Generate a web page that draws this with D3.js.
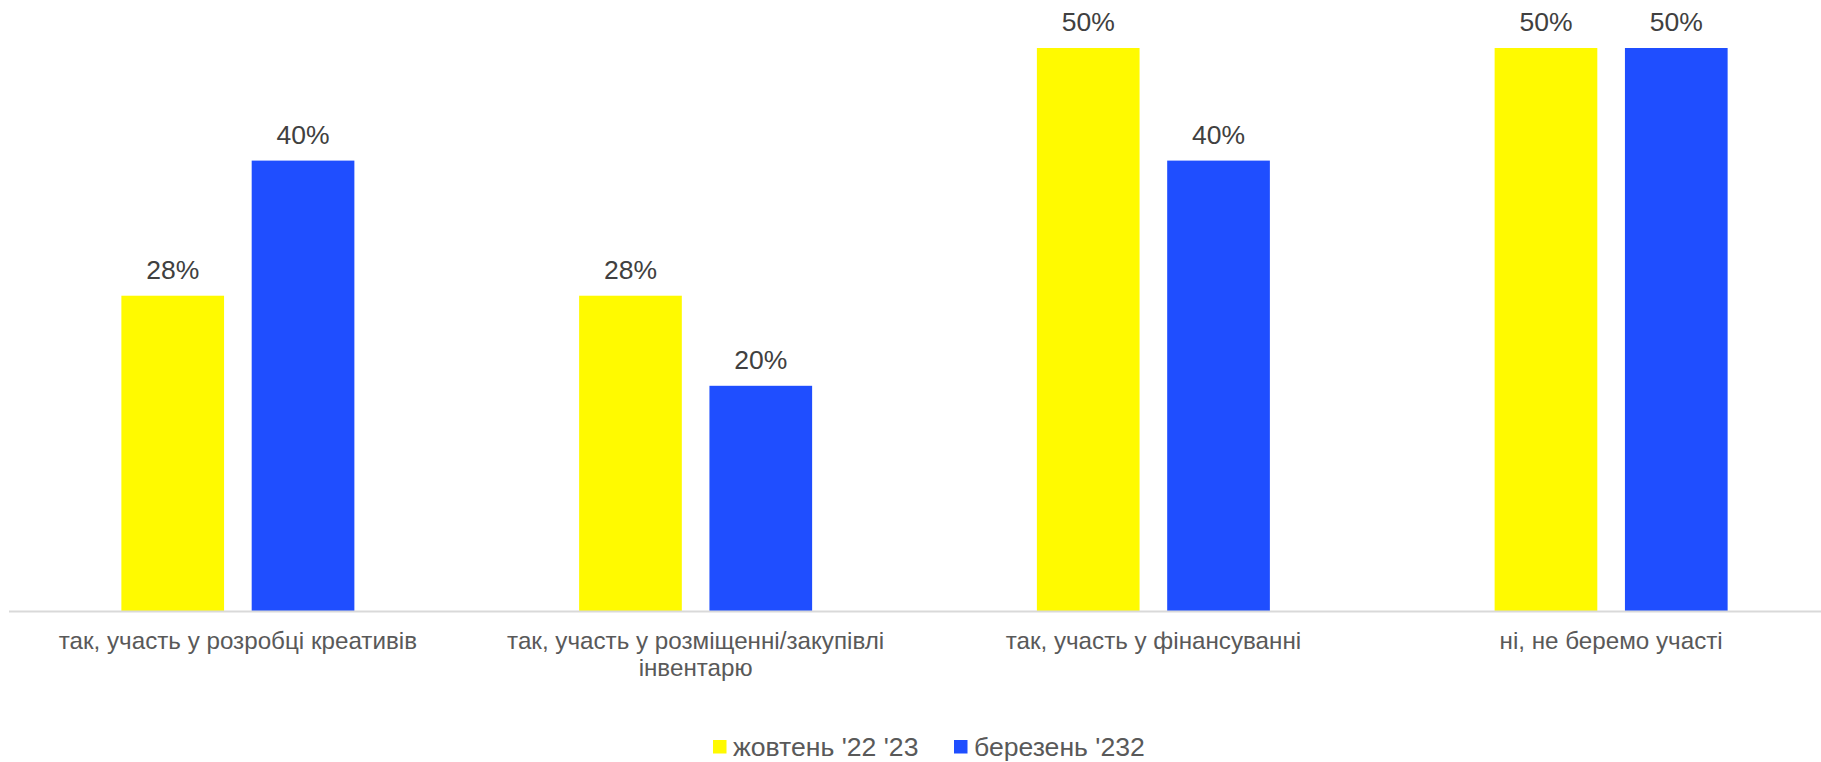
<!DOCTYPE html>
<html>
<head>
<meta charset="utf-8">
<script src="https://cdn.jsdelivr.net/npm/d3@7"></script>
<style>
  html, body { margin: 0; padding: 0; background: #fff; }
  svg { display: block; font-family: "Liberation Sans", Arial, sans-serif; }
</style>
</head>
<body>
<svg id="chart" width="1821" height="762"></svg>
<script>
// Categories (one line per array entry)
const categories = [
  ["так, участь у розробці креативів"],
  ["так, участь у розміщенні/закупівлі", "інвентарю"],
  ["так, участь у фінансуванні"],
  ["ні, не беремо участі"]
];
const seriesNames = ["жовтень '22 '23", "березень '232"];
const octValues = [28, 28, 50, 50];
const marValues = [40, 20, 40, 50];
const colors = ["#FFFA00", "#1F4EFF"];

const W = 1821, H = 762;
const svg = d3.select("#chart");

const baseY = 611;
const groupW = 233;
const x0 = d3.scaleBand().domain(d3.range(categories.length)).range([9, 1840]);
const x1 = d3.scaleBand().domain([0, 1]).range([0, groupW]).paddingInner(0.212);
const groupOffset = (x0.bandwidth() - groupW) / 2;
const y = d3.scaleLinear().domain([0, 50]).range([baseY, 48]);

const series = [octValues, marValues];

const groups = svg.append("g").selectAll("g")
  .data(categories.map((c, i) => i))
  .join("g")
  .attr("transform", i => `translate(${x0(i) + groupOffset},0)`);

groups.selectAll("rect")
  .data(i => series.map((s, k) => ({k, v: s[i]})))
  .join("rect")
  .attr("x", d => x1(d.k))
  .attr("width", x1.bandwidth())
  .attr("y", d => y(d.v))
  .attr("height", d => baseY - y(d.v))
  .attr("fill", d => colors[d.k]);

groups.selectAll("text.val")
  .data(i => series.map((s, k) => ({k, v: s[i]})))
  .join("text")
  .attr("class", "val")
  .attr("x", d => x1(d.k) + x1.bandwidth() / 2)
  .attr("y", d => y(d.v) - 17)
  .attr("text-anchor", "middle")
  .attr("font-size", 26.5)
  .attr("fill", "#404040")
  .text(d => d.v + "%");

// Category axis line
svg.append("line")
  .attr("x1", 9).attr("x2", W)
  .attr("y1", baseY + 0.5).attr("y2", baseY + 0.5)
  .attr("stroke", "#d9d9d9").attr("stroke-width", 2);

// Category labels
const catLabels = svg.append("g").selectAll("text")
  .data(categories)
  .join("text")
  .attr("x", (d, i) => x0(i) + x0.bandwidth() / 2)
  .attr("y", 649)
  .attr("text-anchor", "middle")
  .attr("font-size", 24.2)
  .attr("fill", "#595959");
catLabels.selectAll("tspan")
  .data(d => d)
  .join("tspan")
  .attr("x", function () { return d3.select(this.parentNode).attr("x"); })
  .attr("dy", (d, j) => j === 0 ? 0 : 27)
  .text(d => d);

// Legend
const legendItems = [
  {name: seriesNames[0], color: colors[0], x: 713},
  {name: seriesNames[1], color: colors[1], x: 954}
];
const lg = svg.append("g").selectAll("g").data(legendItems).join("g")
  .attr("transform", d => `translate(${d.x},0)`);
lg.append("rect").attr("x", 0).attr("y", 740).attr("width", 13.5).attr("height", 13.5)
  .attr("fill", d => d.color);
lg.append("text").attr("x", 20).attr("y", 756)
  .attr("font-size", 26.6).attr("fill", "#595959")
  .text(d => d.name);
</script>
</body>
</html>
